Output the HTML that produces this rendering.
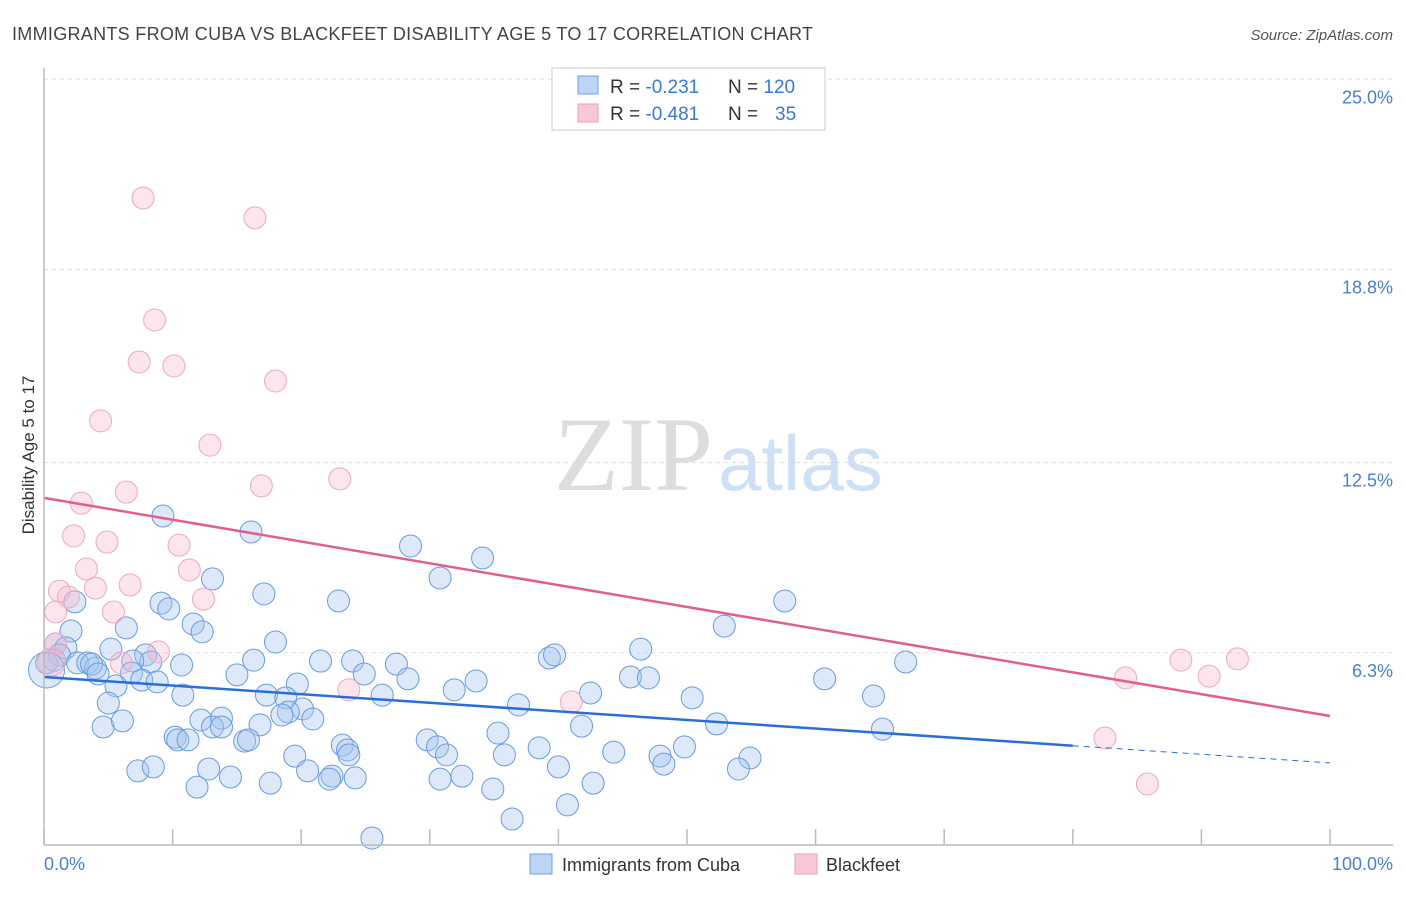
<!DOCTYPE html>
<html><head><meta charset="utf-8"><style>
body{margin:0;background:#fff;font-family:"Liberation Sans",sans-serif;}
</style></head><body>
<svg width="1406" height="892" xmlns="http://www.w3.org/2000/svg" id="chart" style="font-family:'Liberation Sans',sans-serif">
<text x="12" y="40" font-size="18" fill="#444" textLength="801">IMMIGRANTS FROM CUBA VS BLACKFEET DISABILITY AGE 5 TO 17 CORRELATION CHART</text>
<text x="1393" y="40" font-size="15" fill="#555" text-anchor="end" font-style="italic">Source: ZipAtlas.com</text>
<text x="713" y="490" font-size="106" fill="#ddd" text-anchor="end" font-family="Liberation Serif">ZIP</text>
<text x="718" y="490" font-size="78" fill="#cfe0f5">atlas</text>
<g id="grid"></g><g id="pts"></g><g id="lines"></g>
<line x1="44" y1="68" x2="44" y2="845" stroke="#bbb" stroke-width="1.5"/>
<line x1="44" y1="845" x2="1393" y2="845" stroke="#bbb" stroke-width="1.5"/>
<text transform="translate(34,455) rotate(-90)" font-size="17" fill="#333" text-anchor="middle">Disability Age 5 to 17</text>
<text x="44" y="870" font-size="18" fill="#4a7fd4">0.0%</text>
<text x="1393" y="870" font-size="18" fill="#4a7fd4" text-anchor="end">100.0%</text>
<g>
<rect x="552" y="68" width="273" height="62" fill="#fff" stroke="#ccc"/>
<rect x="578" y="76" width="20" height="18" fill="#bcd5f5" stroke="#6f9fe0"/>
<text x="610" y="93" font-size="19" fill="#333">R = <tspan fill="#3a78d8">-0.231</tspan></text>
<text x="728" y="93" font-size="19" fill="#333">N = <tspan fill="#3a78d8">120</tspan></text>
<rect x="578" y="104" width="20" height="18" fill="#f8c8d6" stroke="#eaa0b8"/>
<text x="610" y="120" font-size="19" fill="#333">R = <tspan fill="#3a78d8">-0.481</tspan></text>
<text x="728" y="120" font-size="19" fill="#333">N = </text>
<text x="775" y="120" font-size="19" fill="#3a78d8">35</text>
</g>
<g><rect x="530" y="854" width="22" height="20" fill="#bcd5f5" stroke="#6f9fe0"/><text x="562" y="871" font-size="18" fill="#333">Immigrants from Cuba</text></g>
<g><rect x="795" y="854" width="22" height="20" fill="#f8c8d6" stroke="#eaa0b8"/><text x="826" y="871" font-size="18" fill="#333">Blackfeet</text></g>
</svg>
<script>
const yTicks=[6.3,12.5,18.8,25.0];
const yTickLabels=["6.3%","12.5%","18.8%","25.0%"];
const xTicks=[0,10,20,30,40,50,60,70,80,90,100];
const cubaX=[9.25,16.1,28.5,34.1,30.8,13.1,17.1,22.9,57.6,9.1,9.7,2.4,11.6,6.4,12.3,2.1,52.9,18.0,46.4,0.9,1.7,5.2,1.2,7.9,8.3,6.9,16.3,21.5,24.0,27.4,39.3,39.7,67.0,2.6,3.4,4.0,3.7,10.7,4.2,5.6,6.8,7.6,8.8,15.0,24.9,28.3,33.6,45.6,47.0,60.7,10.8,17.3,19.7,26.3,31.9,42.5,50.4,64.5,5.0,18.8,20.1,19.0,18.5,20.9,12.2,13.8,36.9,4.6,6.1,13.1,13.8,16.8,52.3,65.2,41.8,10.2,10.4,11.2,15.6,15.9,29.8,30.6,35.3,23.2,23.6,31.3,35.8,38.5,44.3,49.8,47.9,48.2,54.9,54.0,19.5,23.7,7.3,8.5,12.8,20.5,22.4,22.2,24.2,30.8,32.5,40.0,14.5,17.6,11.9,34.9,42.7,40.7,36.4,25.5,0.2,0.8,0.2];
const cubaY=[10.76,10.24,9.78,9.39,8.74,8.71,8.22,7.99,7.99,7.92,7.73,7.96,7.24,7.11,6.98,7.01,7.17,6.65,6.42,6.59,6.46,6.42,6.23,6.23,6.0,6.03,6.06,6.03,6.03,5.93,6.13,6.23,6.0,5.97,5.97,5.8,5.93,5.9,5.61,5.22,5.64,5.41,5.35,5.58,5.61,5.45,5.38,5.51,5.48,5.45,4.92,4.92,5.28,4.92,5.09,4.99,4.83,4.89,4.66,4.83,4.47,4.37,4.27,4.14,4.11,4.17,4.6,3.88,4.08,3.88,3.88,3.95,3.98,3.81,3.91,3.55,3.46,3.46,3.42,3.46,3.46,3.23,3.68,3.29,3.13,2.97,2.97,3.2,3.06,3.23,2.93,2.67,2.87,2.51,2.93,2.97,2.45,2.58,2.51,2.45,2.28,2.18,2.22,2.18,2.28,2.58,2.25,2.05,1.92,1.86,2.05,1.34,0.88,0.26,5.97,6.06,5.74];
const bfX=[7.7,16.4,8.6,7.4,10.1,18.0,4.4,12.9,16.9,23.0,6.4,2.9,2.3,4.9,10.5,3.3,11.3,6.7,1.2,4.0,1.9,12.4,0.9,5.4,8.9,6.0,0.9,23.7,41.0,82.5,84.1,88.4,90.6,92.8,85.8,0.6];
const bfY=[21.13,20.48,17.15,15.78,15.65,15.16,13.86,13.07,11.74,11.97,11.54,11.18,10.11,9.91,9.81,9.03,9.0,8.51,8.31,8.41,8.12,8.05,7.63,7.63,6.33,5.97,6.59,5.09,4.7,3.52,5.48,6.06,5.54,6.1,2.02,6.0];
const cubaTrend=[5.51,2.71];
const cubaTrendEnd=80;
const bfTrend=[11.35,4.24];
const X=v=>44+v*12.86, Y=v=>846-v*30.67;
const NS="http://www.w3.org/2000/svg";
function mk(tag,attrs,parent){const e=document.createElementNS(NS,tag);for(const k in attrs)e.setAttribute(k,attrs[k]);document.getElementById(parent).appendChild(e);return e;}
yTicks.forEach((t,i)=>{
 const g=mk('line',{x1:44,x2:1393,y1:Y(t),y2:Y(t),stroke:'#ddd','stroke-dasharray':'4,4'},'grid');
 
 
 const tx=mk('text',{x:1393,y:Y(t)+24,'font-size':18,fill:'#4a7fd4','text-anchor':'end'},'grid');
 tx.textContent=yTickLabels[i];
 
 
});
xTicks.forEach(t=>{
 const l=mk('line',{x1:X(t),x2:X(t),y1:829,y2:845,stroke:'#bbb','stroke-width':1.5},'grid');
 
 
});
cubaX.forEach((x,i)=>{
 const big=i===cubaX.length-1;
 const c=mk('circle',{cx:X(x),cy:Y(cubaY[i]),r:big?18:11,fill:'rgba(165,198,240,0.38)',stroke:'#6a9be0','stroke-width':1},'pts');
 
 
});
bfX.forEach((x,i)=>{
 const big=i===bfX.length-1;
 const c=mk('circle',{cx:X(x),cy:Y(bfY[i]),r:big?14:11,fill:'rgba(245,180,200,0.35)',stroke:'#eeaac0','stroke-width':1},'pts');
 
 
});
const cy=x=>cubaTrend[0]+(cubaTrend[1]-cubaTrend[0])*x/100;
let l1=mk('line',{x1:X(0),y1:Y(cy(0)),x2:X(cubaTrendEnd),y2:Y(cy(cubaTrendEnd)),stroke:'#2a6fd6','stroke-width':2.5},'lines');


let l2=mk('line',{x1:X(cubaTrendEnd),y1:Y(cy(cubaTrendEnd)),x2:X(100),y2:Y(cy(100)),stroke:'#2a6fd6','stroke-width':1,'stroke-dasharray':'6,5'},'lines');


let l3=mk('line',{x1:X(0),y1:Y(bfTrend[0]),x2:X(100),y2:Y(bfTrend[1]),stroke:'#e0608a','stroke-width':2.5},'lines');


</script>
</body></html>
